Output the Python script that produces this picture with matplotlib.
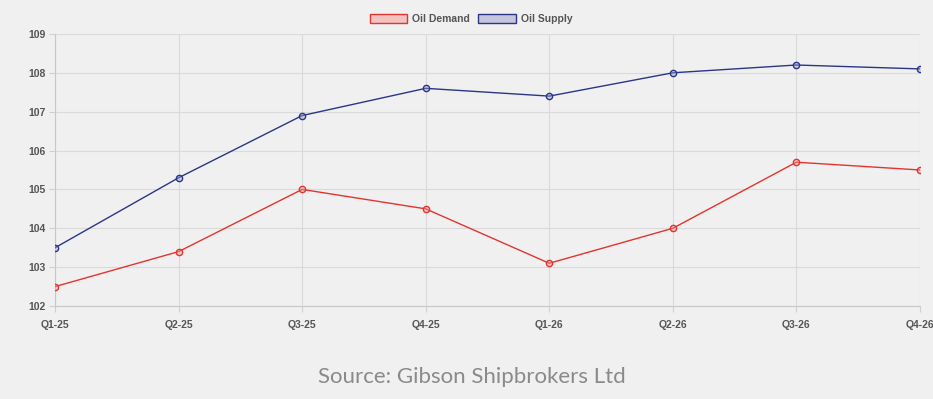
import matplotlib
matplotlib.use("Agg")
import matplotlib.pyplot as plt
from matplotlib.patches import Patch

categories = ["Q1-25", "Q2-25", "Q3-25", "Q4-25", "Q1-26", "Q2-26", "Q3-26", "Q4-26"]
oil_demand = [102.5, 103.4, 105.0, 104.5, 103.1, 104.0, 105.7, 105.5]
oil_supply = [103.5, 105.3, 106.9, 107.6, 107.4, 108.0, 108.2, 108.1]
y_ticks = [102, 103, 104, 105, 106, 107, 108, 109]

bg = "#f0f0f0"
red = "#e3342f"
blue = "#2b3688"

fig = plt.figure(figsize=(9.33, 3.99), dpi=100, facecolor=bg)
ax = fig.add_axes([0.059, 0.233, 0.927, 0.682], facecolor=bg)

x = list(range(len(categories)))
ax.plot(x, oil_demand, color=red, lw=1.0, marker="o", ms=4.5,
        mfc=(0.95, 0.6, 0.6, 0.4), mec=red, mew=1.0, zorder=3)
ax.plot(x, oil_supply, color=blue, lw=1.0, marker="o", ms=4.5,
        mfc=(0.6, 0.62, 0.8, 0.4), mec=blue, mew=1.0, zorder=3)

ax.set_xlim(0, len(categories) - 1)
ax.set_ylim(102, 109)
ax.set_xticks(x)
ax.set_xticklabels(categories)
ax.set_yticks(y_ticks)
ax.grid(True, color="#dadada", lw=0.8)
ax.set_axisbelow(True)
for s in ["top", "right"]:
    ax.spines[s].set_visible(False)
for s in ["left", "bottom"]:
    ax.spines[s].set_color("#c8c8c8")
    ax.spines[s].set_linewidth(0.8)
ax.tick_params(axis="both", length=4, color="#d0d0d0", labelsize=7.5, labelcolor="#555555", pad=3)
for lab in ax.get_xticklabels() + ax.get_yticklabels():
    lab.set_fontweight("bold")
    lab.set_family("Liberation Sans")
ax.tick_params(axis="x", pad=6)

handles = [Patch(facecolor="#f5c2c2", edgecolor=red, lw=1.0, label="Oil Demand"),
           Patch(facecolor="#c3c6dc", edgecolor=blue, lw=1.0, label="Oil Supply")]
leg = fig.legend(handles=handles, loc="center", bbox_to_anchor=(0.505, 0.952), ncol=2,
                 frameon=False, handlelength=3.6, handleheight=1.0,
                 handletextpad=0.5, columnspacing=0.8,
                 prop={"family": "Liberation Sans", "weight": "bold", "size": 7.5})
for t in leg.get_texts():
    t.set_color("#555555")

fig.text(0.506, 0.055, "Source: Gibson Shipbrokers Ltd", ha="center", va="center",
         fontsize=16, color="#8a8a8a", family="Lato")

fig.savefig("out.png", dpi=100, facecolor=bg)
